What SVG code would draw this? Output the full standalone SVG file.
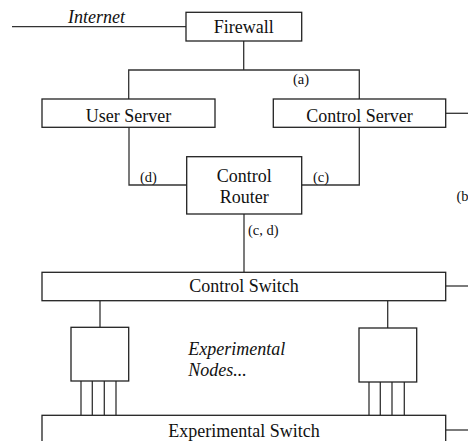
<svg xmlns="http://www.w3.org/2000/svg" width="468" height="441" viewBox="0 0 468 441">
<style>
.box{fill:#fff;stroke:#222;stroke-width:1.3}
.ln{fill:none;stroke:#333;stroke-width:1.3}
.t{font-family:"Liberation Serif",serif;font-size:18px;fill:#111;text-anchor:middle}
.it{font-family:"Liberation Serif",serif;font-size:18px;font-style:italic;fill:#111}
.s{font-family:"Liberation Serif",serif;font-size:14.5px;fill:#111}
</style>
<rect width="468" height="441" fill="#fff"/>
<g id="connectors">
<path class="ln" d="M12,26.7H186"/>
<path class="ln" d="M243.7,41V70M128.7,99V70H359.3V99"/>
<path class="ln" d="M446,113.3H468"/>
<path class="ln" d="M129,127V185H186.7"/>
<path class="ln" d="M301.7,185H359.3V127"/>
<path class="ln" d="M244,214V272.3"/>
<path class="ln" d="M446,286H468"/>
<path class="ln" d="M446,430H468"/>
<path class="ln" d="M100,300.7V327.3"/>
<path class="ln" d="M387.7,300.7V328"/>
<path class="ln" d="M81,381V415.3M92.3,381V415.3M104.3,381V415.3M116,381V415.3"/>
<path class="ln" d="M369,382V415.3M380.3,382V415.3M392,382V415.3M404.3,382V415.3"/>
<text class="it" x="68" y="23">Internet</text>
<text class="s" x="293" y="84">(a)</text>
<text class="s" x="140" y="182">(d)</text>
<text class="s" x="313" y="182">(c)</text>
<text class="s" x="248" y="235">(c, d)</text>
<text class="s" x="456.5" y="201">(b</text>
</g>
<g id="firewall"><rect class="box" x="186" y="12.3" width="115.7" height="28.7"/><text class="t" x="243.8" y="33.3">Firewall</text></g>
<g id="user-server"><rect class="box" x="42" y="99" width="173" height="28.3"/><text class="t" x="128.5" y="121.7">User Server</text></g>
<g id="control-server"><rect class="box" x="273.3" y="99" width="172.4" height="28.3"/><text class="t" x="359.5" y="121.7">Control Server</text></g>
<g id="control-router"><rect class="box" x="186.7" y="156.7" width="115" height="57.3"/><text class="t" x="244.2" y="182">Control</text><text class="t" x="244.2" y="202.7">Router</text></g>
<g id="control-switch"><rect class="box" x="42" y="272.3" width="403.7" height="28.4"/><text class="t" x="244" y="292">Control Switch</text></g>
<g id="node-left"><rect class="box" x="71" y="327.3" width="57.7" height="53.7"/></g>
<g id="node-right"><rect class="box" x="359" y="328" width="57.7" height="54"/></g>
<g id="experimental-nodes"><text class="it" x="188.3" y="355">Experimental</text><text class="it" x="188.3" y="376">Nodes...</text></g>
<g id="experimental-switch"><rect class="box" x="42" y="415.3" width="403.7" height="40"/><text class="t" x="244" y="436.7">Experimental Switch</text></g>
</svg>
